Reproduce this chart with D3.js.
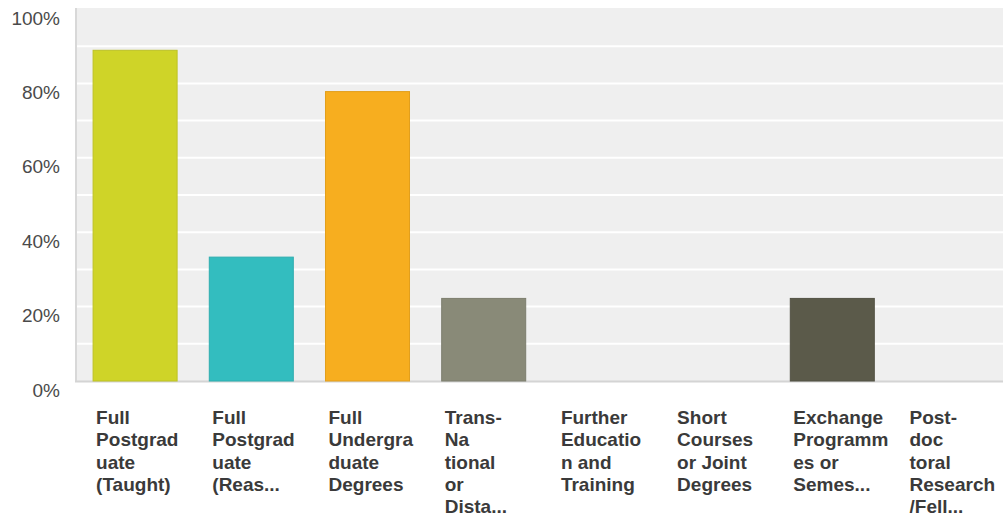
<!DOCTYPE html>
<html><head><meta charset="utf-8">
<script src="https://cdn.jsdelivr.net/npm/d3@7"></script>
<style>body{margin:0;background:#fff}svg{display:block}</style>
</head><body>
<script>
const categories = ["Full Postgraduate (Taught)","Full Postgraduate (Research)","Full Undergraduate Degrees","Trans-National or Distance","Further Education and Training","Short Courses or Joint Degrees","Exchange Programmes or Semester","Post-doctoral Research/Fellowship"];
const tickLines = [
  ["Full","Postgrad","uate","(Taught)"],
  ["Full","Postgrad","uate","(Reas..."],
  ["Full","Undergra","duate","Degrees"],
  ["Trans-","Na","tional","or","Dista..."],
  ["Further","Educatio","n and","Training"],
  ["Short","Courses","or Joint","Degrees"],
  ["Exchange","Programm","es or","Semes..."],
  ["Post-","doc","toral","Research","/Fell..."]
];
const values = [0.889, 0.333, 0.778, 0.222, 0, 0, 0.222, 0];
const colors = ["#cfd428","#33bdbf","#f7ae1f","#898a78","#999","#999","#5b5a4a","#999"];
const yTicks = [0,0.2,0.4,0.6,0.8,1.0];
const gridTicks = [0.1,0.2,0.3,0.4,0.5,0.6,0.7,0.8,0.9];

const W=1003,H=515;
const svg=d3.select("body").append("svg").attr("width",W).attr("height",H);
const x=d3.scaleBand().domain(categories).range([77,1006.6]).paddingInner(0.277).paddingOuter(0.1385);
const y=d3.scaleLinear().domain([0,1]).range([381,9]);

svg.append("rect").attr("x",75).attr("y",8).attr("width",W-75).attr("height",374).attr("fill","#efefef");
svg.append("g").selectAll("line").data(gridTicks).join("line")
  .attr("x1",77).attr("x2",W).attr("y1",d=>y(d)).attr("y2",d=>y(d))
  .attr("stroke","#fff").attr("stroke-width",2);
svg.append("line").attr("x1",76).attr("x2",76).attr("y1",8).attr("y2",382).attr("stroke","#d8d8d8").attr("stroke-width",2);
svg.append("line").attr("x1",75).attr("x2",W).attr("y1",381.5).attr("y2",381.5).attr("stroke","#d4d4d4").attr("stroke-width",2);

svg.append("g").selectAll("rect").data(categories).join("rect")
  .attr("x",d=>x(d)).attr("width",x.bandwidth())
  .attr("y",(d,i)=>y(values[i])).attr("height",(d,i)=>y(0)-y(values[i]))
  .attr("fill",(d,i)=>colors[i])
  .attr("stroke",(d,i)=>d3.color(colors[i]).darker(0.25)).attr("stroke-width",values=>1)
  .style("display",(d,i)=>values[i]>0?null:"none");

const yAxis=d3.axisLeft(y).tickValues(yTicks).tickFormat(d3.format(".0%")).tickSize(0).tickPadding(0);
const ya=svg.append("g").attr("transform","translate(60,9)").call(yAxis);
ya.select(".domain").remove();
ya.selectAll("text").attr("font-family","Liberation Sans, Arial, sans-serif").attr("font-size","19px").attr("fill","#4a4a4a");

const xAxis=d3.axisBottom(x).tickSize(0).tickFormat("");
const xa=svg.append("g").attr("transform","translate(0,381)").call(xAxis);
xa.select(".domain").remove();
xa.selectAll(".tick").each(function(d,i){
  const t=d3.select(this).append("text")
    .attr("x",-x.bandwidth()/2+3).attr("y",43)
    .attr("text-anchor","start")
    .attr("font-family","Liberation Sans, Arial, sans-serif").attr("font-size","19px").attr("font-weight","bold").attr("fill","#3a3a3a");
  tickLines[i].forEach((l,j)=>t.append("tspan").attr("x",-x.bandwidth()/2+3).attr("y",43+j*22.3).text(l));
});
</script>
</body></html>
